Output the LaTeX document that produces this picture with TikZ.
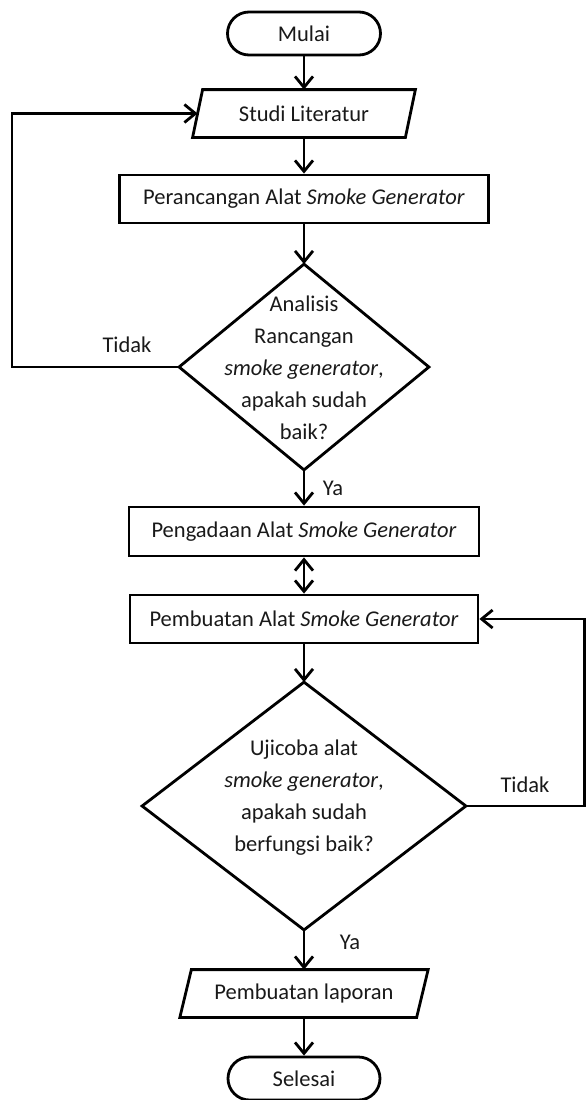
\documentclass[tikz,border=0pt]{standalone}
\usepackage{fontspec}
\setmainfont{Carlito}
\usetikzlibrary{arrows.meta}
\begin{document}
\begin{tikzpicture}[x=1pt,y=-1pt, line width=2.8pt,
  every node/.style={font=\fontsize{22.5}{32}\selectfont, inner sep=0pt, text=black!90},
  arr/.style={-{Straight Barb[length=11pt,width=18pt]}},
  darr/.style={{Straight Barb[length=11pt,width=18pt]}-{Straight Barb[length=11pt,width=18pt]}},
  term/.style={draw, rounded corners=21.5pt, minimum width=153pt, minimum height=43pt},
  proc/.style={draw, minimum height=48pt},
  iobox/.style={minimum height=45pt},
  lbl/.style={}]
\useasboundingbox (0,0) rectangle (586,1100);

% nodes
\node[term] (mulai) at (304,33.5) {Mulai};
\node[iobox, minimum width=210pt] (lit) at (304,113.5) {Studi Literatur};
\draw ([xshift=5pt]lit.north west) -- ([xshift=5pt]lit.north east) -- ([xshift=-5pt]lit.south east) -- ([xshift=-5pt]lit.south west) -- cycle;
\node[proc, minimum width=369pt] (r1) at (304,199) {Perancangan Alat \textit{Smoke Generator}};

\node[minimum width=247pt, minimum height=203pt] (d1) at (304,367) {};
\draw (d1.north) -- (d1.east) -- (d1.south) -- (d1.west) -- cycle;
\node[align=center] (d1t) at (304,368) {Analisis\\Rancangan\\\textit{smoke generator},\\apakah sudah\\baik?};

\node[proc, minimum width=350pt, minimum height=49pt] (r2) at (304,531.5) {Pengadaan Alat \textit{Smoke Generator}};
\node[proc, minimum width=348pt] (r3) at (304,619) {Pembuatan Alat \textit{Smoke Generator}};

\node[minimum width=321pt, minimum height=245pt] (d2) at (304,806) {};
\draw (d2.north) -- (d2.east) -- (d2.south) -- (d2.west) -- cycle;
\node[align=center] (d2t) at (304,798) {Ujicoba alat\\\textit{smoke generator},\\apakah sudah\\berfungsi baik?};

\node[iobox, minimum width=234pt] (lap) at (304,993.5) {Pembuatan laporan};
\draw ([xshift=5.75pt]lap.north west) -- ([xshift=5.75pt]lap.north east) -- ([xshift=-5.75pt]lap.south east) -- ([xshift=-5.75pt]lap.south west) -- cycle;
\node[term, minimum width=152pt] (sel) at (304,1078.5) {Selesai};

% labels
\node[lbl] (t1) at (127,345) {Tidak};
\node[lbl] (y1) at (333,488) {Ya};
\node[lbl] (t2) at (525,785) {Tidak};
\node[lbl] (y2) at (350,942) {Ya};

% connectors
\coordinate (l1) at (12,367);
\coordinate (l2) at (12,113.5);
\coordinate (q1) at (584.5,806);
\coordinate (q2) at (584.5,619);

\draw[arr] (mulai) -- (lit);
\draw[arr] (lit) -- (r1);
\draw[arr] (r1) -- (d1.north);
\draw[arr] (d1.west) -- (l1) -- (l2) -- (lit.west);
\draw[arr] (d1.south) -- (r2);
\draw[darr] (r2) -- (r3);
\draw[arr] (r3) -- (d2.north);
\draw[arr] (d2.east) -- (q1) -- (q2) -- (r3.east);
\draw[arr] (d2.south) -- (lap);
\draw[arr] (lap) -- (sel);
\end{tikzpicture}
\end{document}
